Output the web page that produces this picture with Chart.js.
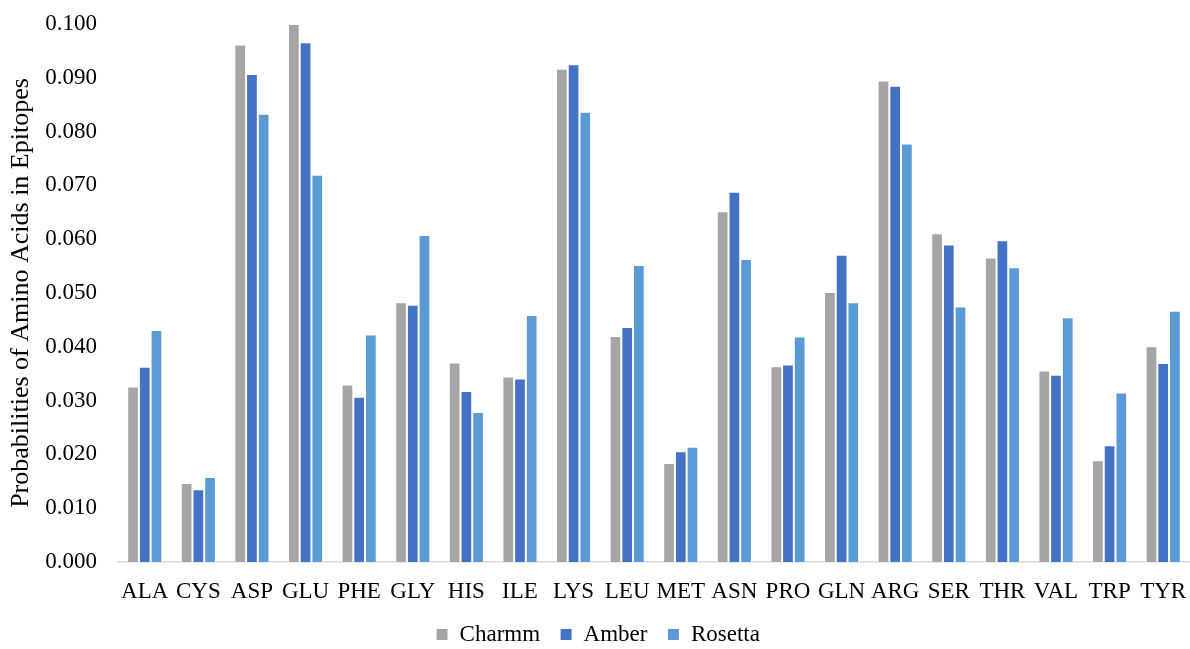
<!DOCTYPE html>
<html>
<head>
<meta charset="utf-8">
<script src="https://cdn.jsdelivr.net/npm/chart.js@4.4.1/dist/chart.umd.min.js"></script>
<style>
  html, body { margin: 0; padding: 0; background: #ffffff; }
  #wrap { width: 1190px; height: 649px; position: relative; }
</style>
</head>
<body>
<div id="wrap"><canvas id="chart"></canvas></div>
<script>
// Amino acid residues along the x axis
const residues = ['ALA','CYS','ASP','GLU','PHE','GLY','HIS','ILE','LYS','LEU','MET','ASN','PRO','GLN','ARG','SER','THR','VAL','TRP','TYR'];

// Probability of each residue appearing in epitopes, per force field
const charmm  = [0.0326,0.0147,0.0962,0.1000,0.0330,0.0483,0.0371,0.0345,0.0917,0.0420,0.0184,0.0652,0.0364,0.0502,0.0895,0.0611,0.0566,0.0356,0.0189,0.0401];
const amber   = [0.0363,0.0135,0.0907,0.0966,0.0307,0.0478,0.0318,0.0341,0.0925,0.0437,0.0206,0.0688,0.0367,0.0571,0.0885,0.0590,0.0598,0.0348,0.0217,0.0370];
const rosetta = [0.0431,0.0158,0.0833,0.0720,0.0423,0.0608,0.0279,0.0459,0.0837,0.0552,0.0214,0.0563,0.0419,0.0483,0.0778,0.0475,0.0548,0.0455,0.0315,0.0467];

const seriesNames = ['Charmm', 'Amber', 'Rosetta'];
const yTitle = 'Probabilities of Amino Acids in Epitopes';

const serif = "'Liberation Serif', 'Times New Roman', serif";
const barStyle = (color) => ({
  backgroundColor: color,
  borderColor: '#ffffff',
  borderWidth: 1,
  categoryPercentage: 0.655,
  barPercentage: 1.0
});

new Chart(document.getElementById('chart'), {
  type: 'bar',
  data: {
    labels: residues,
    datasets: [
      Object.assign({ label: seriesNames[0], data: charmm }, barStyle('#A5A5A5')),
      Object.assign({ label: seriesNames[1], data: amber }, barStyle('#4472C4')),
      Object.assign({ label: seriesNames[2], data: rosetta }, barStyle('#5B9BD5'))
    ]
  },
  options: {
    responsive: true,
    maintainAspectRatio: false,
    animation: false,
    layout: { padding: { top: 24, right: 0, left: 6, bottom: -7 } },
    plugins: {
      legend: {
        position: 'bottom',
        labels: {
          boxWidth: 12,
          boxHeight: 12,
          padding: 20,
          color: '#000000',
          font: { family: serif, size: 23 }
        }
      },
      tooltip: { enabled: false }
    },
    scales: {
      x: {
        // tick marks stay hidden; tickLength only spaces the labels from the axis
        grid: { display: false, drawTicks: true, tickLength: 18 },
        border: { display: true, color: '#D9D9D9', width: 1.5 },
        ticks: {
          color: '#000000',
          padding: 0,
          maxRotation: 0,
          autoSkip: false,
          font: { family: serif, size: 23, lineHeight: 1.0 }
        }
      },
      y: {
        min: 0,
        max: 0.1,
        grid: { display: false, drawTicks: false },
        border: { display: false },
        ticks: {
          stepSize: 0.01,
          color: '#000000',
          padding: 21,
          font: { family: serif, size: 23, lineHeight: 0.2 },
          callback: (v) => Number(v).toFixed(3)
        },
        title: {
          display: true,
          text: yTitle,
          color: '#000000',
          padding: { top: 0, bottom: -13 },
          font: { family: serif, size: 26 }
        }
      }
    }
  }
});
</script>
</body>
</html>
